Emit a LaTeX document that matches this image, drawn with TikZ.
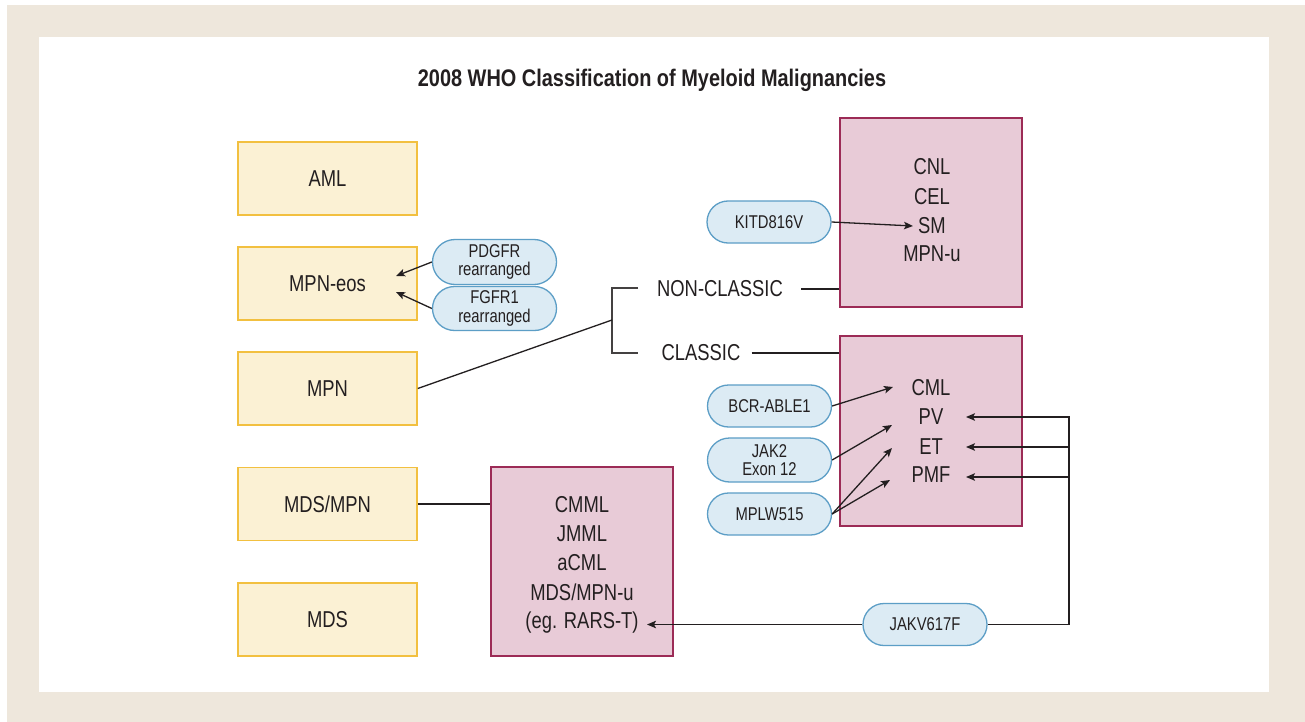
\documentclass[tikz,border=0pt]{standalone}
\usepackage{fontspec}
\setmainfont{Liberation Sans}[FakeStretch=0.8]
\newfontfamily\titlefont{Liberation Sans}[FakeStretch=0.83]
\usetikzlibrary{arrows.meta,shapes.misc}
\definecolor{beige}{HTML}{EEE7DC}
\definecolor{yfill}{HTML}{FBF1D4}
\definecolor{ydraw}{HTML}{F2C040}
\definecolor{pfill}{HTML}{E8CBD7}
\definecolor{pdraw}{HTML}{9C2B56}
\definecolor{bfill}{HTML}{DCEBF4}
\definecolor{bdraw}{HTML}{5C9EC6}
\definecolor{ink}{HTML}{231F20}
\begin{document}
\begin{tikzpicture}[x=1pt,y=-1pt,
 ybox/.style={draw=ydraw, fill=yfill, line width=1.5pt, minimum width=179pt, minimum height=73pt, inner sep=0pt, font=\fontsize{23}{27}\selectfont, text=ink},
 pbox/.style={draw=pdraw, fill=pfill, line width=1.5pt, minimum width=182pt, minimum height=189pt, inner sep=0pt},
 pill/.style={draw=bdraw, fill=bfill, line width=1.3pt, rounded rectangle, minimum width=124pt, minimum height=42pt, inner sep=0pt, align=center, font=\fontsize{18.5}{18.5}\selectfont, text=ink},
 lbl/.style={inner sep=0pt, font=\fontsize{23}{27}\selectfont, text=ink},
 conn/.style={draw=ink, line width=1.3pt},
 arr/.style={conn, -{Stealth[length=9pt,width=7.5pt,inset=2pt]}},
]
\useasboundingbox (0,0) rectangle (1305,722);
\fill[white] (0,0) rectangle (1305,722);
\fill[beige] (7,5) rectangle (1305,722);
\fill[white] (39,37) rectangle (1269,692);

\node[font=\titlefont\bfseries\fontsize{24}{28}\selectfont, text=ink] (title) at (652,80) {2008 WHO Classification of Myeloid Malignancies};

% left column
\node[ybox] (aml) at (327.5,178.5) {AML};
\node[ybox] (mpneos) at (327.5,283.5) {MPN-eos};
\node[ybox] (mpn) at (327.5,388.5) {MPN};
\node[ybox] (mdsmpn) at (327.5,504) {MDS/MPN};
\node[ybox] (mds) at (327.5,619.5) {MDS};

% pink boxes
\node[pbox] (other) at (931,212.5) {};
\node[pbox, minimum height=190pt] (classic) at (931,431) {};
\node[pbox] (mdsbox) at (582,561.5) {};

\node[lbl] (cnl) at (932,167) {CNL};
\node[lbl] (cel) at (932,197) {CEL};
\node[lbl] (sm) at (932,226) {SM};
\node[lbl] (mpnu) at (932,254) {MPN-u};

\node[lbl] (cml) at (931,388) {CML};
\node[lbl] (pv) at (931,417) {PV};
\node[lbl] (et) at (931,447) {ET};
\node[lbl] (pmf) at (931,475) {PMF};

\node[lbl] (cmml) at (582,505) {CMML};
\node[lbl] (jmml) at (582,534) {JMML};
\node[lbl] (acml) at (582,563) {aCML};
\node[lbl] (mdsmpnu) at (582,592) {MDS/MPN-u};
\node[lbl] (rarst) at (582,623) {(eg. RARS-T)};

% pills
\node[pill, minimum height=45pt] (pdgfr) at (494.5,262) {PDGFR\\rearranged};
\node[pill, minimum height=44pt] (fgfr) at (494.5,308.5) {FGFR1\\rearranged};
\node[pill] (kit) at (769,222) {KITD816V};
\node[pill] (bcr) at (769.5,406) {BCR-ABLE1};
\node[pill, minimum height=44pt] (jak2) at (769.5,460) {JAK2\\Exon 12};
\node[pill] (mpl) at (769.5,514) {MPLW515};
\node[pill] (jakv) at (925,624.5) {JAKV617F};

% classic / non-classic
\node[lbl] (noncl) at (720,289) {NON-CLASSIC};
\node[lbl] (cl) at (701,353) {CLASSIC};

\coordinate (brtop) at (638,288);
\coordinate (brbot) at (638,353);
\coordinate (brmid) at (612,320);
\draw[conn, draw=ink!85] (brtop) -- (brtop -| brmid) -- (brbot -| brmid) -- (brbot);
\draw[conn] (mpn.east) -- (brmid);
\draw[conn] ([xshift=18pt]noncl.east) -- (noncl.east -| other.west);
\draw[conn] ([xshift=11pt]cl.east) -- (cl.east -| classic.west);
\draw[conn] (mdsmpn.east) -- (mdsmpn.east -| mdsbox.west);

% arrows
\coordinate (eosA) at (396,276);
\coordinate (eosB) at (396,292);
\draw[arr] (pdgfr.west) -- (eosA);
\draw[arr] (fgfr.west) -- (eosB);

\coordinate (smin) at (913,226);
\draw[arr] (kit.east) -- (smin);

\coordinate (cmlin) at (893,387);
\coordinate (pvinL) at (892,425);
\coordinate (etinL) at (892,448);
\coordinate (pmfinL) at (890,480);
\draw[arr] (bcr.east) -- (cmlin);
\draw[arr] (jak2.east) -- (pvinL);
\draw[arr] (mpl.east) -- (etinL);
\draw[arr] (mpl.east) -- (pmfinL);

\coordinate (pvinR) at (966,417);
\coordinate (etinR) at (966,447);
\coordinate (pmfinR) at (966,477);
\coordinate (bus) at (1069,417);
\draw[arr] (jakv.east) -| (bus) -- (pvinR);
\draw[arr] (bus |- etinR) -- (etinR);
\draw[arr] (bus |- pmfinR) -- (pmfinR);

\coordinate (rarsin) at (647,624.5);
\draw[arr] (jakv.west) -- (rarsin);
\end{tikzpicture}
\end{document}
